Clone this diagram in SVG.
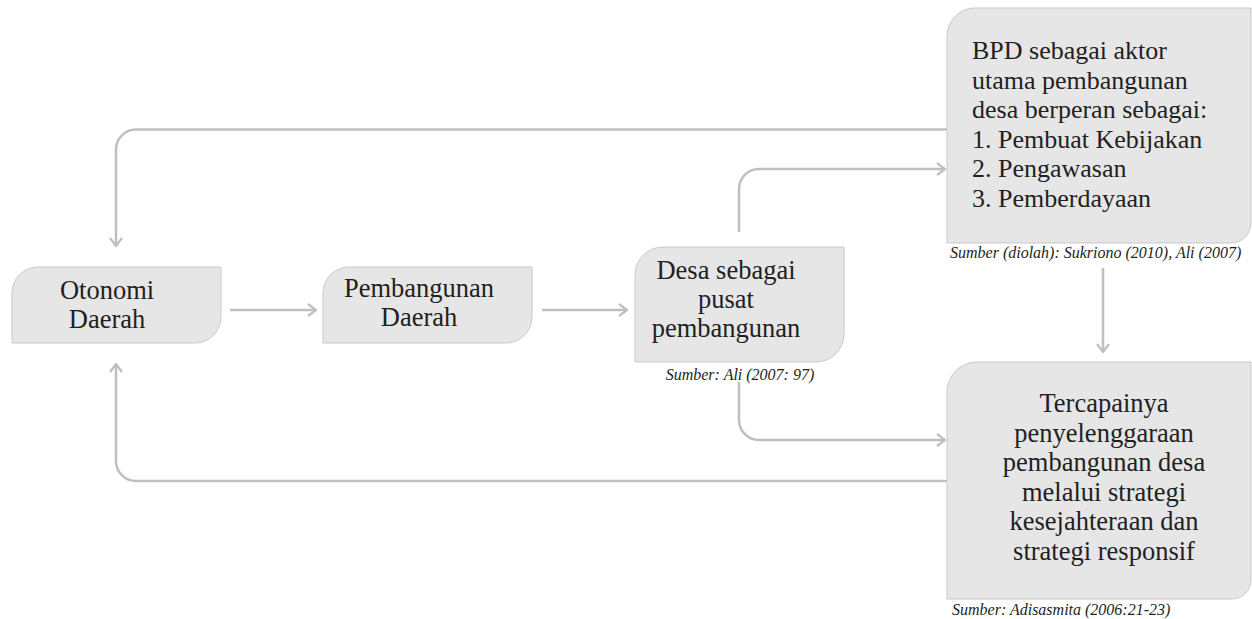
<svg xmlns="http://www.w3.org/2000/svg" width="1252" height="619" viewBox="0 0 1252 619">
<defs>
<style>
.box{fill:#e6e6e7;stroke:#c9c9cb;stroke-width:1}
.t{font-family:"Liberation Serif",serif;font-size:26.5px;fill:#231f20}
.l{font-size:26px}
.c{text-anchor:middle}
.src{font-family:"Liberation Serif",serif;font-size:16px;font-style:italic;fill:#231f20}
.con{fill:none;stroke:#bfbfc1;stroke-width:2.5}
</style>
<marker id="ah" viewBox="0 0 10 14" refX="9" refY="7" markerWidth="10" markerHeight="14" markerUnits="userSpaceOnUse" orient="auto">
<path d="M1,1 L9,7 L1,13" fill="none" stroke="#bfbfc1" stroke-width="2.2"/>
</marker>
</defs>
<rect width="1252" height="619" fill="#ffffff"/>
<g id="connectors">
<path class="con" d="M230,310 L316,310" marker-end="url(#ah)"/>
<path class="con" d="M542,310 L627,310" marker-end="url(#ah)"/>
<path class="con" d="M947,129.5 L136,129.5 A20,20 0 0 0 116,149.5 L116,246" marker-end="url(#ah)"/>
<path class="con" d="M947,481 L136,481 A20,20 0 0 1 116,461 L116,364" marker-end="url(#ah)"/>
<path class="con" d="M739,232 L739,189 A20,20 0 0 1 759,169 L945,169" marker-end="url(#ah)"/>
<path class="con" d="M739,382 L739,420 A20,20 0 0 0 759,440 L945,440" marker-end="url(#ah)"/>
<path class="con" d="M1103,268 L1103,352" marker-end="url(#ah)"/>
</g>
<g id="otonomi">
<path class="box" d="M12,293 A26,26 0 0 1 38,267 L221,267 L221,317 A26,26 0 0 1 195,343 L12,343 Z"/>
<text class="t c" x="107" y="299">Otonomi</text>
<text class="t c" x="107" y="328">Daerah</text>
</g>
<g id="pembangunan">
<path class="box" d="M323,293 A26,26 0 0 1 349,267 L532,267 L532,317 A26,26 0 0 1 506,343 L323,343 Z"/>
<text class="t c" x="419" y="297">Pembangunan</text>
<text class="t c" x="419" y="326">Daerah</text>
</g>
<g id="desa">
<path class="box" d="M635,275 A28,28 0 0 1 663,247 L844,247 L844,334 A28,28 0 0 1 816,362 L635,362 Z"/>
<text class="t c" x="726" y="279">Desa sebagai</text>
<text class="t c" x="726" y="308">pusat</text>
<text class="t c" x="726" y="337">pembangunan</text>
<text class="src c" x="740" y="380">Sumber: Ali (2007: 97)</text>
</g>
<g id="bpd">
<path class="box" d="M947,36 A28,28 0 0 1 975,8 L1251,8 L1251,223 A20,20 0 0 1 1231,243 L947,243 Z"/>
<text class="t l" x="972" y="59">BPD sebagai aktor</text>
<text class="t l" x="972" y="88.5">utama pembangunan</text>
<text class="t l" x="972" y="118">desa berperan sebagai:</text>
<text class="t l" x="972" y="147.5">1. Pembuat Kebijakan</text>
<text class="t l" x="972" y="177">2. Pengawasan</text>
<text class="t l" x="972" y="206.5">3. Pemberdayaan</text>
<text class="src" x="950" y="258">Sumber (diolah): Sukriono (2010), Ali (2007)</text>
</g>
<g id="tercapainya">
<path class="box" d="M947,392 A30,30 0 0 1 977,362 L1251,362 L1251,580 A19,19 0 0 1 1232,599 L947,599 Z"/>
<text class="t c" x="1104" y="412">Tercapainya</text>
<text class="t c" x="1104" y="441.5">penyelenggaraan</text>
<text class="t c" x="1104" y="471">pembangunan desa</text>
<text class="t c" x="1104" y="500.5">melalui strategi</text>
<text class="t c" x="1104" y="530">kesejahteraan dan</text>
<text class="t c" x="1104" y="559.5">strategi responsif</text>
<text class="src" x="952" y="615">Sumber: Adisasmita (2006:21-23)</text>
</g>
</svg>
